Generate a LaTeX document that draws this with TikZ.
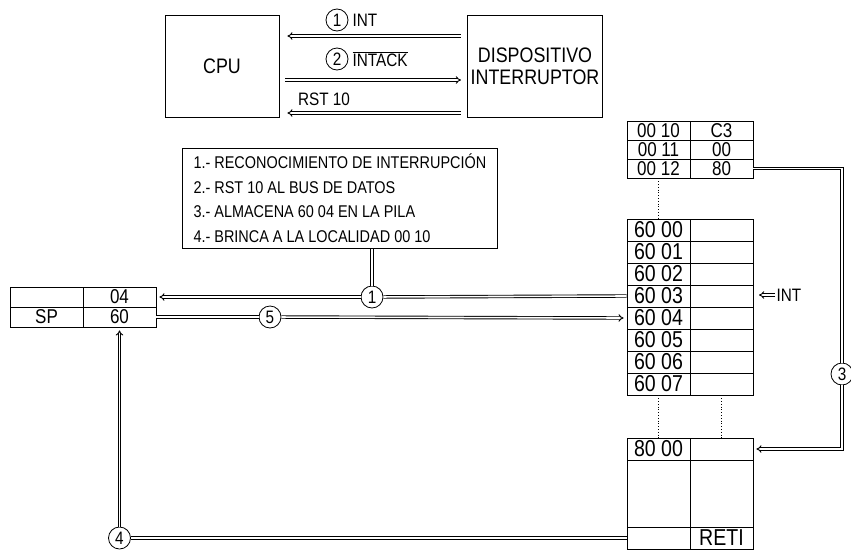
\documentclass[tikz,border=0pt]{standalone}
\usepackage{fontspec}
\setmainfont{Liberation Sans}[FakeStretch=0.85]
\usetikzlibrary{arrows.meta,positioning}
\tikzset{
  unit/.style  = {rectangle, draw=black, line width=0.8pt, align=center,
                  font=\fontsize{21}{22}\selectfont},
  note/.style  = {rectangle, draw=black, line width=0.8pt, align=left,
                  inner xsep=7pt, font=\fontsize{17}{24.6}\selectfont},
  cell/.style  = {rectangle, draw=black, line width=0.8pt, inner sep=0pt,
                  minimum width=63pt, minimum height=22pt, font=\fontsize{23}{22}\selectfont},
  vec/.style   = {cell, minimum height=19pt, font=\fontsize{20}{19}\selectfont},
  reg/.style   = {cell, minimum width=73pt, minimum height=20pt, font=\fontsize{20}{20}\selectfont},
  num/.style   = {circle, draw=black, fill=white, line width=0.8pt, inner sep=0pt,
                  minimum size=22pt, font=\fontsize{18}{18}\selectfont},
  tag/.style   = {inner sep=1pt, font=\fontsize{18}{18}\selectfont},
  bus/.style   = {double, double distance=1.6pt, line width=0.9pt},
  flow/.style  = {bus, -{Implies}, shorten >=3pt},
  gap/.style   = {dotted, line width=0.8pt},
}
\begin{document}
\begin{tikzpicture}[x=1pt, y=-1pt]
  \useasboundingbox (0,0) rectangle (851,552);

  % CPU y dispositivo
  \node[unit, minimum width=114pt, minimum height=102pt] (cpu)  at (222,66) {CPU};
  \node[unit, minimum width=130pt, minimum height=102pt] (disp) at (535,66) {DISPOSITIVO\\INTERRUPTOR};

  \node[num] (n1) at (337,20) {1};
  \node[tag, right=3pt of n1] (lint) {INT};
  \node[num] (n2) at (337,59) {2};
  \node[tag, right=3pt of n2] (lack) {\ensuremath{\overline{\hbox{INTACK}}}};
  \node[tag] (lrst) at (324,99) {RST 10};

  \draw[flow, shorten <=6pt, shorten >=8pt] ([yshift=30pt]disp.west) -- ([yshift=30pt]cpu.east);
  \draw[flow, shorten <=6pt, shorten >=6pt] ([yshift=-14pt]cpu.east) -- ([yshift=-14pt]disp.west);
  \draw[flow, shorten <=6pt, shorten >=8pt] ([yshift=-47pt]disp.west) -- ([yshift=-47pt]cpu.east);

  % pasos
  \node[note, minimum width=315pt, minimum height=100pt, anchor=north west] (tbox) at (182,148)
    {1.- RECONOCIMIENTO DE INTERRUPCI\'ON\\
     2.- RST 10 AL BUS DE DATOS\\
     3.- ALMACENA 60 04 EN LA PILA\\
     4.- BRINCA A LA LOCALIDAD 00 10};

  % registro SP
  \node[reg] (r1) at (46.5,297)  {};
  \node[reg] (s1) at (119.5,297) {04};
  \node[reg] (r2) at (46.5,317)  {SP};
  \node[reg] (s2) at (119.5,317) {60};

  % memoria: vector 00 10
  \node[vec] (t0) at (658.5,130.5) {00 10};
  \node[vec] (u0) at (721.5,130.5) {C3};
  \node[vec] (t1) at (658.5,149.5) {00 11};
  \node[vec] (u1) at (721.5,149.5) {00};
  \node[vec] (t2) at (658.5,168.5) {00 12};
  \node[vec] (u2) at (721.5,168.5) {80};

  % memoria: pila
  \foreach \a [count=\i from 0] in {00,01,02,03,04,05,06,07} {
    \node[cell] (m\i) at (658.5,230+22*\i) {60 \a};
    \node[cell] (v\i) at (721.5,230+22*\i) {};
  }

  % memoria: rutina 80 00
  \node[cell] (b0) at (658.5,449) {80 00};
  \node[cell] (w0) at (721.5,449) {};
  \node[cell, minimum height=67pt] (b1) at (658.5,493.5) {};
  \node[cell, minimum height=67pt] (w1) at (721.5,493.5) {};
  \node[cell] (b2) at (658.5,538) {};
  \node[cell] (w2) at (721.5,538) {RETI};

  \draw[gap] (t2.south) -- (m0.north);
  \draw[gap] (m7.south) -- (b0.north);
  \draw[gap] (v7.south) -- (w0.north);

  \node[tag] (iint) at (789,295) {INT};
  \coordinate (ia) at (759,295);
  \draw[bus, -{Implies}] (iint.west) -- (ia);

  % pasos numerados
  \node[num] (q1) at (372,297) {1};
  \node[num] (q5) at (270,317) {5};
  \node[num] (q3) at (842,374) {3};
  \node[num] (q4) at (119.5,538) {4};

  \draw[bus] (tbox.south -| q1) -- (q1);
  \draw[bus] (m3.west) -- (q1);
  \draw[flow] (q1) -- (s1.east);
  \draw[bus] (s2.east) -- (q5);
  \draw[flow] (q5) -- (m4.west);
  \draw[bus] (u2.east) -| (q3);
  \draw[flow] (q3) |- (w0.east);
  \draw[bus] (b2.west) -- (q4);
  \draw[flow] (q4) -- (s2.south);
\end{tikzpicture}
\end{document}
